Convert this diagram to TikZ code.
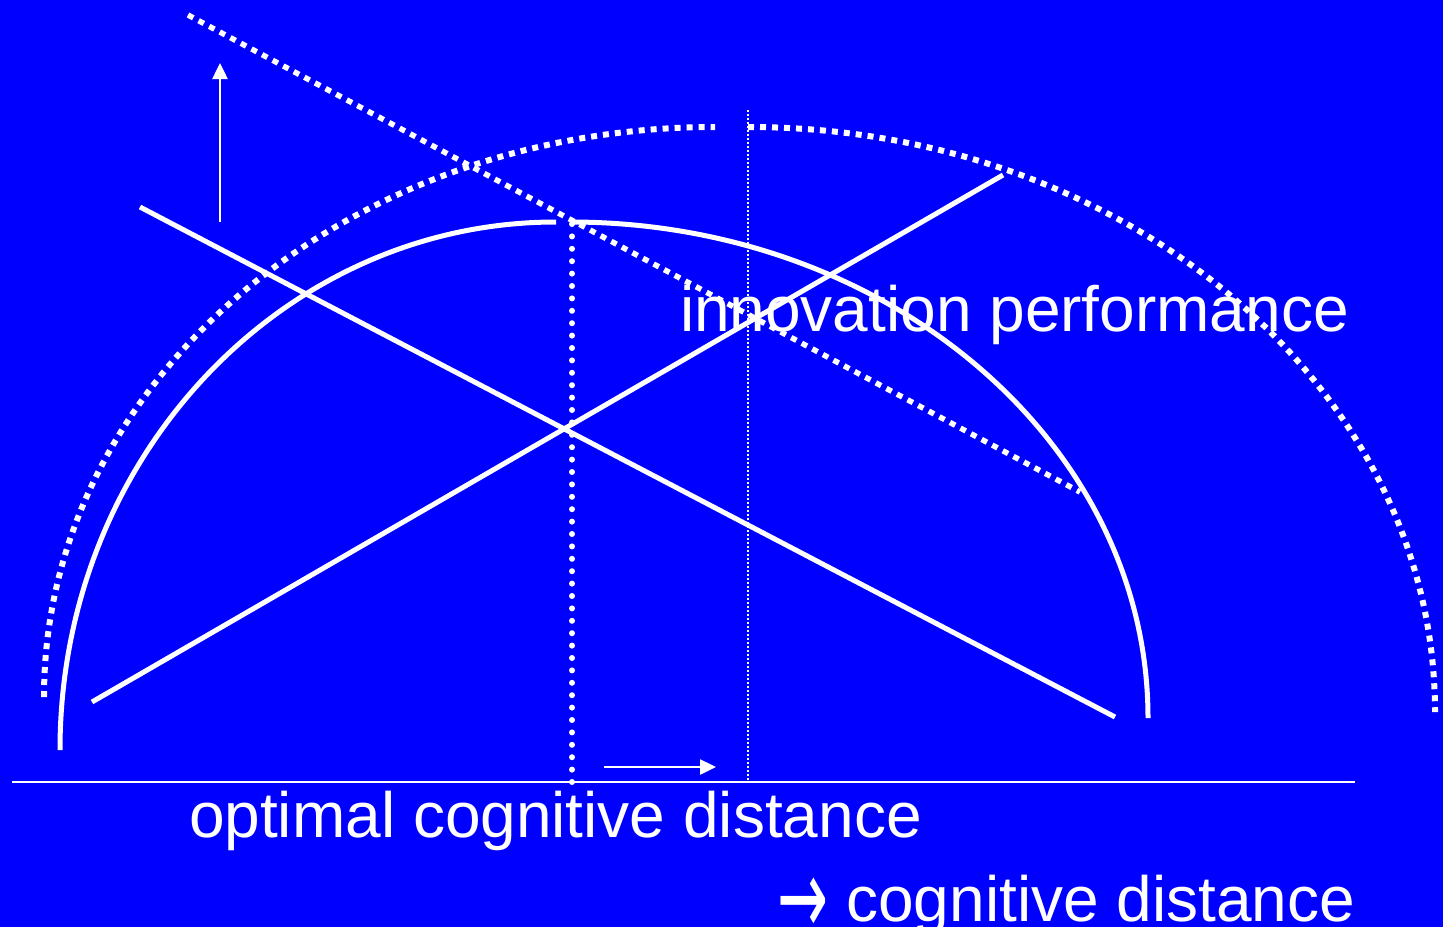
\documentclass[tikz,border=0pt]{standalone}
\usepackage{fontspec}
\setmainfont{Liberation Sans}
\newfontfamily\arrowfont{DejaVu Sans}
\usetikzlibrary{arrows.meta}
\definecolor{bgblue}{RGB}{0,0,255}
\tikzset{
  solidline/.style={white, line width=5pt, line cap=butt},
  squaredots/.style={white, line width=6pt, line cap=butt, dash pattern=on 6pt off 6pt},
  rounddots/.style={white, line width=6pt, line cap=round, dash pattern=on 0pt off 12.4pt},
  finedots/.style={white, line width=1.5pt, dash pattern=on 2pt off 2pt},
  thinarrow/.style={white, line width=2.5pt, -{Triangle[width=15pt,length=16pt]}},
  bigtext/.style={text=white, font=\fontsize{64}{76}\selectfont, inner sep=0pt, outer sep=0pt},
}
\begin{document}
\begin{tikzpicture}[x=1pt, y=-1pt]
  \fill[bgblue] (0,0) rectangle (1443,927);
  \useasboundingbox (0,0) rectangle (1443,927);

  % coordinates
  \coordinate (arcL) at (60,750);
  \coordinate (arcR) at (1148,718);
  \coordinate (darcL) at (44,697);
  \coordinate (darcM) at (748,127);
  \coordinate (aA) at (140,207);
  \coordinate (aB) at (1115,717);
  \coordinate (bA) at (92,702);
  \coordinate (bB) at (1003,175);
  \coordinate (sA) at (188,15);
  \coordinate (sB) at (1080,492);
  \coordinate (vTop) at (572,224);
  \coordinate (vBot) at (572,786);
  \coordinate (tTop) at (748,110);
  \coordinate (tBot) at (748,781);
  \coordinate (axL) at (12,782);
  \coordinate (axR) at (1355,782);
  \coordinate (upA) at (220,222);
  \coordinate (upB) at (220,63);
  \coordinate (rtA) at (604,767);
  \coordinate (rtB) at (716,767);

  % dotted outer arc
  \draw[squaredots] (darcL) arc[start angle=180, end angle=90, x radius=671pt, y radius=570pt];
  \draw[squaredots] (darcM) arc[start angle=90, end angle=0, x radius=687pt, y radius=585pt];

  % solid inner arc
  \draw[solidline] (arcL) arc[start angle=180, end angle=90, x radius=496pt, y radius=528pt];
  \draw[solidline] (570,222) arc[start angle=90, end angle=0, x radius=578pt, y radius=496pt];

  % straight lines
  \draw[solidline] (aA) -- (aB);
  \draw[solidline] (bA) -- (bB);
  \draw[squaredots, line width=5.5pt] (sA) -- (sB);

  % verticals
  \draw[rounddots] (vTop) -- (vBot);
  \draw[finedots] (tTop) -- (tBot);

  % axis
  \draw[white, line width=2pt] (axL) -- (axR);

  % arrows
  \draw[thinarrow] (upA) -- (upB);
  \draw[thinarrow] (rtA) -- (rtB);

  % texts
  \node[bigtext, anchor=base west] (perf) at (680,331) {innovation performance};
  \node[bigtext, anchor=base west] (opt) at (189,837) {optimal cognitive distance};
  \node[bigtext, anchor=base east] (cd) at (1355,921) {\raisebox{-13pt}{\scalebox{1.05}[1.85]{\arrowfont\fontsize{58}{70}\selectfont →}} cognitive distance};
\end{tikzpicture}
\end{document}
